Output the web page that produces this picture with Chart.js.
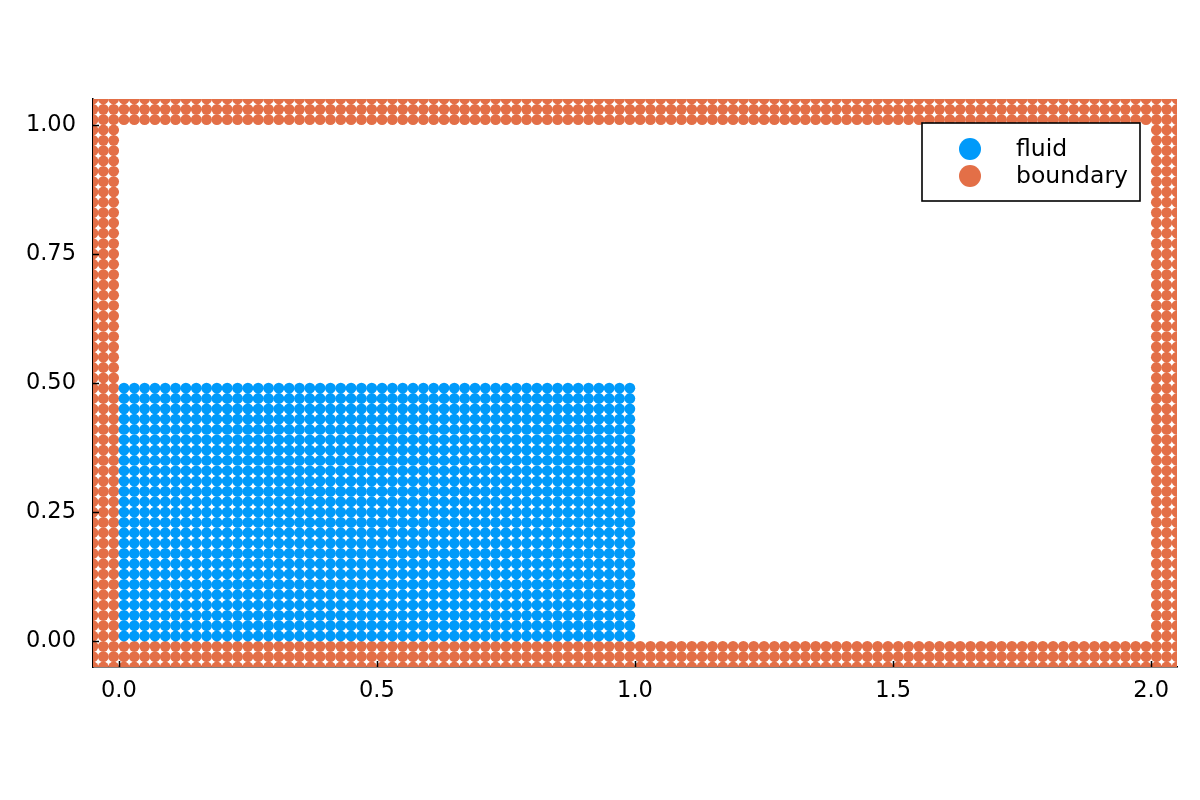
<!DOCTYPE html>
<html>
<head>
<meta charset="utf-8">
<script src="https://cdn.jsdelivr.net/npm/chart.js@4.4.1/dist/chart.umd.min.js"></script>
<style>
  html, body { margin: 0; padding: 0; background: #fff; }
  #wrap { width: 1200px; height: 800px; }
</style>
</head>
<body>
<div id="wrap"><canvas id="chart" width="1200" height="800"></canvas></div>
<script>
// particle coordinates (spacing 0.02)
const fluidX = [
  0.01,0.03,0.05,0.07,0.09,0.11,0.13,0.15,0.17,0.19,
  0.21,0.23,0.25,0.27,0.29,0.31,0.33,0.35,0.37,0.39,
  0.41,0.43,0.45,0.47,0.49,0.51,0.53,0.55,0.57,0.59,
  0.61,0.63,0.65,0.67,0.69,0.71,0.73,0.75,0.77,0.79,
  0.81,0.83,0.85,0.87,0.89,0.91,0.93,0.95,0.97,0.99
];
const fluidY = [
  0.01,0.03,0.05,0.07,0.09,0.11,0.13,0.15,0.17,0.19,
  0.21,0.23,0.25,0.27,0.29,0.31,0.33,0.35,0.37,0.39,
  0.41,0.43,0.45,0.47,0.49
];
// tank grid incl. 3 wall layers; interior (0..2 x 0..1) is left out
const tankX = [
  -0.05,-0.03,-0.01,
  0.01,0.03,0.05,0.07,0.09,0.11,0.13,0.15,0.17,0.19,
  0.21,0.23,0.25,0.27,0.29,0.31,0.33,0.35,0.37,0.39,
  0.41,0.43,0.45,0.47,0.49,0.51,0.53,0.55,0.57,0.59,
  0.61,0.63,0.65,0.67,0.69,0.71,0.73,0.75,0.77,0.79,
  0.81,0.83,0.85,0.87,0.89,0.91,0.93,0.95,0.97,0.99,
  1.01,1.03,1.05,1.07,1.09,1.11,1.13,1.15,1.17,1.19,
  1.21,1.23,1.25,1.27,1.29,1.31,1.33,1.35,1.37,1.39,
  1.41,1.43,1.45,1.47,1.49,1.51,1.53,1.55,1.57,1.59,
  1.61,1.63,1.65,1.67,1.69,1.71,1.73,1.75,1.77,1.79,
  1.81,1.83,1.85,1.87,1.89,1.91,1.93,1.95,1.97,1.99,
  2.01,2.03,2.05
];
const tankY = [
  -0.05,-0.03,-0.01,
  0.01,0.03,0.05,0.07,0.09,0.11,0.13,0.15,0.17,0.19,
  0.21,0.23,0.25,0.27,0.29,0.31,0.33,0.35,0.37,0.39,
  0.41,0.43,0.45,0.47,0.49,0.51,0.53,0.55,0.57,0.59,
  0.61,0.63,0.65,0.67,0.69,0.71,0.73,0.75,0.77,0.79,
  0.81,0.83,0.85,0.87,0.89,0.91,0.93,0.95,0.97,0.99,
  1.01,1.03,1.05
];
const tankW = 2.0, tankH = 1.0;

const xTicks = [0, 0.5, 1.0, 1.5, 2.0];
const xTickLabels = ['0.0', '0.5', '1.0', '1.5', '2.0'];
const yTicks = [0, 0.25, 0.5, 0.75, 1.0];
const yTickLabels = ['0.00', '0.25', '0.50', '0.75', '1.00'];

const seriesNames = ['fluid', 'boundary'];
const colors = ['#009AFA', '#E36F47'];

const fluidPts = [];
for (const y of fluidY) for (const x of fluidX) fluidPts.push({x, y});
const boundaryPts = [];
for (const y of tankY) for (const x of tankX) {
  if (x < 0 || x > tankW || y < 0 || y > tankH) boundaryPts.push({x, y});
}

const FONT = "'DejaVu Sans', sans-serif";

// inward tick marks + legend box
const extras = {
  id: 'extras',
  afterDatasetsDraw(chart) {
    const c = chart.ctx, a = chart.chartArea;
    const xs = chart.scales.x, ys = chart.scales.y;
    c.save();
    c.strokeStyle = '#000';
    c.lineWidth = 1.5;
    c.beginPath();
    xTicks.forEach(v => {
      const px = Math.round(xs.getPixelForValue(v)) + 0.5;
      c.moveTo(px, a.bottom); c.lineTo(px, a.bottom - 6);
    });
    yTicks.forEach(v => {
      const py = Math.round(ys.getPixelForValue(v)) + 0.5;
      c.moveTo(a.left, py); c.lineTo(a.left + 6, py);
    });
    c.stroke();

    // legend
    const bx = 922, by = 123, bw = 218, bh = 78;
    c.fillStyle = '#fff';
    c.fillRect(bx, by, bw, bh);
    c.lineWidth = 1.6;
    c.strokeRect(bx, by, bw, bh);
    c.font = '23.5px ' + FONT;
    c.textBaseline = 'middle';
    c.textAlign = 'left';
    seriesNames.forEach((n, i) => {
      const cy = 149 + i * 27;
      c.fillStyle = colors[i];
      c.beginPath();
      c.arc(970, cy, 11, 0, Math.PI * 2);
      c.fill();
      c.fillStyle = '#000';
      c.fillText(n, 1016, cy + 1);
    });
    c.restore();
  }
};

new Chart(document.getElementById('chart'), {
  type: 'scatter',
  data: {
    datasets: [
      { label: seriesNames[0], data: fluidPts, backgroundColor: colors[0],
        pointRadius: 5.4, pointBorderWidth: 0, borderWidth: 0, clip: 0 },
      { label: seriesNames[1], data: boundaryPts, backgroundColor: colors[1],
        pointRadius: 5.4, pointBorderWidth: 0, borderWidth: 0, clip: 0 }
    ]
  },
  options: {
    responsive: false,
    animation: false,
    events: [],
    layout: { padding: { top: 99, right: 23, left: 0, bottom: 83 } },
    plugins: { legend: { display: false }, tooltip: { enabled: false } },
    scales: {
      x: {
        type: 'linear', min: -0.05, max: 2.05,
        afterBuildTicks: s => { s.ticks = xTicks.map(v => ({value: v})); },
        afterFit: s => { s.height = 50; },
        grid: { display: false, drawTicks: false },
        border: { display: true, color: '#000', width: 1.5 },
        ticks: {
          color: '#000', padding: 11, maxRotation: 0,
          font: { family: FONT, size: 22.5 },
          callback: (v, i) => xTickLabels[i]
        }
      },
      y: {
        type: 'linear', min: -0.05, max: 1.05,
        afterBuildTicks: s => { s.ticks = yTicks.map(v => ({value: v})); },
        afterFit: s => { s.width = 93; },
        grid: { display: false, drawTicks: false },
        border: { display: true, color: '#000', width: 1.5 },
        ticks: {
          color: '#000', padding: 17,
          font: { family: FONT, size: 22.5 },
          callback: (v, i) => yTickLabels[i]
        }
      }
    }
  },
  plugins: [extras]
});
</script>
</body>
</html>
